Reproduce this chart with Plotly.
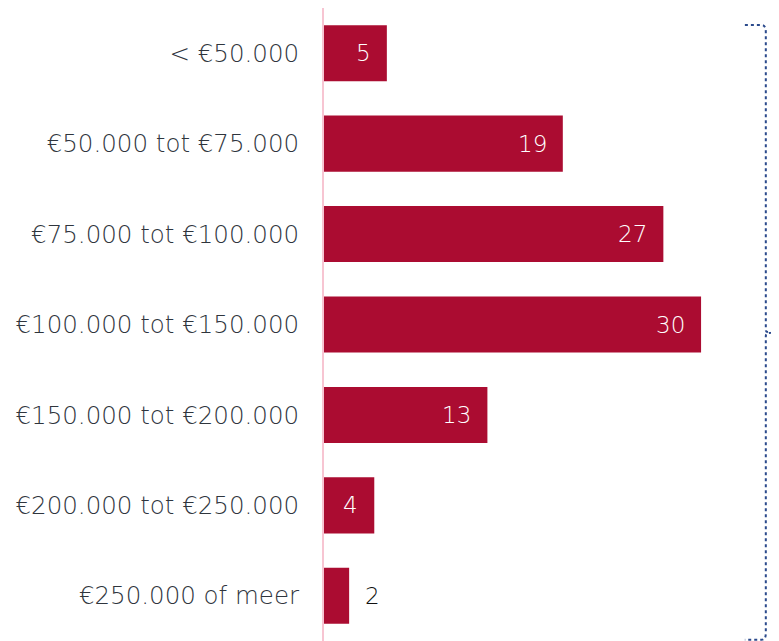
import plotly.graph_objects as go

categories = ["< €50.000", "€50.000 tot €75.000", "€75.000 tot €100.000",
              "€100.000 tot €150.000", "€150.000 tot €200.000",
              "€200.000 tot €250.000", "€250.000 of meer"]
values = [5, 19, 27, 30, 13, 4, 2]

BAR = "#AB0C31"
FONT = "DejaVu Sans"

fig = go.Figure(go.Bar(
    y=categories, x=values, orientation="h",
    marker=dict(color=BAR, line=dict(width=0)),
    hoverinfo="skip",
))

for c, v in zip(categories, values):
    inside = v >= 4
    fig.add_annotation(
        x=v, y=c, xref="x", yref="y",
        text=str(v), showarrow=False,
        xanchor="right" if inside else "left",
        xshift=-14 if inside else 14,
        font=dict(family=FONT, size=23, color="white" if inside else "#111111", weight=200),
    )

# decorative curly brace on the right
brace = ("M 0.925 0.973 L 0.962 0.973 Q 0.971 0.973 0.971 0.962 "
         "L 0.971 0.491 Q 0.971 0.487 0.985 0.487 L 0.998 0.487 "
         "M 0.985 0.487 Q 0.971 0.487 0.971 0.482 L 0.971 0.012 "
         "Q 0.971 0.002 0.962 0.002 L 0.925 0.002")
fig.add_shape(type="path", path=brace, xref="paper", yref="paper",
              line=dict(color="#2B4A8C", width=2, dash="dot"))

fig.update_layout(
    width=771, height=633,
    margin=dict(l=316, r=0, t=0, b=0),
    plot_bgcolor="white", paper_bgcolor="white",
    bargap=0.38,
    showlegend=False,
    xaxis=dict(range=[0, 36.2], visible=False, fixedrange=True),
    yaxis=dict(autorange="reversed", showline=True, linecolor="#F7C5D2",
               linewidth=2, ticks="", ticklabelstandoff=18, showgrid=False,
               tickfont=dict(family=FONT, size=24.5, color="#2F353D", weight=200)),
)

fig.write_html("out.html")
